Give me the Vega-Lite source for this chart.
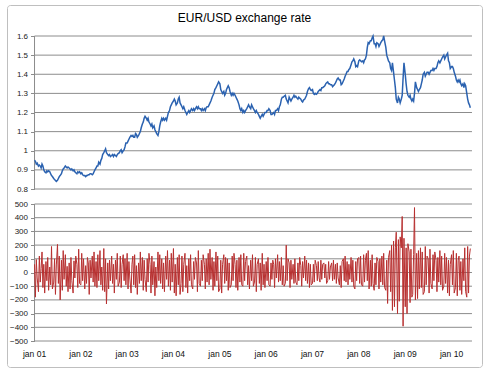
{
"$schema": "https://vega.github.io/schema/vega-lite/v6.json",
"width": 475, "height": 362,
"autosize": "none",
"padding": {"left": 7, "top": 5, "right": 5, "bottom": 8},
"background": "white",
"title": {"text": "EUR/USD exchange rate", "font": "Liberation Sans", "fontSize": 12, "fontWeight": "normal", "color": "#000000", "anchor": "middle", "frame": "group", "offset": 0, "baseline": "alphabetic", "dy": 29},
"config": {"view": {"stroke": "#bfbfbf", "strokeWidth": 1, "cornerRadius": 3}, "axis": {"labelFont": "Liberation Sans", "labelFontSize": 8, "labelColor": "#222222"}},
"datasets": {
"gt": [{"g":0.8},{"g":0.9},{"g":1.0},{"g":1.1},{"g":1.2},{"g":1.3},{"g":1.4},{"g":1.5},{"g":1.6}],
"gb": [{"g":-500},{"g":-400},{"g":-300},{"g":-200},{"g":-100},{"g":0},{"g":100},{"g":200},{"g":300},{"g":400},{"g":500}],
"yr": [{"t":"2001-01-01","lab":"jan 01"},{"t":"2002-01-01","lab":"jan 02"},{"t":"2003-01-01","lab":"jan 03"},{"t":"2004-01-01","lab":"jan 04"},{"t":"2005-01-01","lab":"jan 05"},{"t":"2006-01-01","lab":"jan 06"},{"t":"2007-01-01","lab":"jan 07"},{"t":"2008-01-01","lab":"jan 08"},{"t":"2009-01-01","lab":"jan 09"},{"t":"2010-01-01","lab":"jan 10"}],
"fx": [
{"d":"2001-01-01","p":0.95,"r":60},{"d":"2001-01-08","p":0.945,"r":-180},{"d":"2001-01-15","p":0.93,"r":95},{"d":"2001-01-22","p":0.935,"r":-40},
{"d":"2001-02-01","p":0.92,"r":-140},{"d":"2001-02-08","p":0.925,"r":120},{"d":"2001-02-15","p":0.92,"r":-70},{"d":"2001-02-22","p":0.91,"r":30},
{"d":"2001-03-01","p":0.93,"r":150},{"d":"2001-03-08","p":0.92,"r":-110},{"d":"2001-03-15","p":0.90,"r":60},{"d":"2001-03-22","p":0.89,"r":-150},
{"d":"2001-04-01","p":0.885,"r":80},{"d":"2001-04-08","p":0.895,"r":-60},{"d":"2001-04-15","p":0.89,"r":110},{"d":"2001-04-22","p":0.895,"r":-130},
{"d":"2001-05-01","p":0.89,"r":40},{"d":"2001-05-08","p":0.88,"r":-90},{"d":"2001-05-15","p":0.87,"r":190},{"d":"2001-05-22","p":0.865,"r":-120},
{"d":"2001-06-01","p":0.855,"r":-70},{"d":"2001-06-08","p":0.85,"r":100},{"d":"2001-06-15","p":0.845,"r":-160},{"d":"2001-06-22","p":0.84,"r":55},
{"d":"2001-07-01","p":0.845,"r":205},{"d":"2001-07-08","p":0.855,"r":-80},{"d":"2001-07-15","p":0.865,"r":120},{"d":"2001-07-22","p":0.87,"r":-200},
{"d":"2001-08-01","p":0.88,"r":90},{"d":"2001-08-08","p":0.895,"r":-130},{"d":"2001-08-15","p":0.905,"r":160},{"d":"2001-08-22","p":0.91,"r":-50},
{"d":"2001-09-01","p":0.92,"r":130},{"d":"2001-09-08","p":0.915,"r":-100},{"d":"2001-09-15","p":0.91,"r":45},{"d":"2001-09-22","p":0.915,"r":-140},
{"d":"2001-10-01","p":0.91,"r":70},{"d":"2001-10-08","p":0.905,"r":-120},{"d":"2001-10-15","p":0.90,"r":110},{"d":"2001-10-22","p":0.905,"r":-60},
{"d":"2001-11-01","p":0.895,"r":-150},{"d":"2001-11-08","p":0.90,"r":85},{"d":"2001-11-15","p":0.89,"r":-40},{"d":"2001-11-22","p":0.885,"r":120},
{"d":"2001-12-01","p":0.88,"r":60},{"d":"2001-12-08","p":0.89,"r":-110},{"d":"2001-12-15","p":0.885,"r":170},{"d":"2001-12-22","p":0.89,"r":-80},
{"d":"2002-01-01","p":0.88,"r":-90},{"d":"2002-01-08","p":0.885,"r":140},{"d":"2002-01-15","p":0.875,"r":-60},{"d":"2002-01-22","p":0.87,"r":100},
{"d":"2002-02-01","p":0.87,"r":-120},{"d":"2002-02-08","p":0.865,"r":50},{"d":"2002-02-15","p":0.87,"r":-80},{"d":"2002-02-22","p":0.87,"r":110},
{"d":"2002-03-01","p":0.875,"r":70},{"d":"2002-03-08","p":0.875,"r":-160},{"d":"2002-03-15","p":0.88,"r":90},{"d":"2002-03-22","p":0.88,"r":-40},
{"d":"2002-04-01","p":0.875,"r":120},{"d":"2002-04-08","p":0.88,"r":-70},{"d":"2002-04-15","p":0.89,"r":150},{"d":"2002-04-22","p":0.90,"r":-100},
{"d":"2002-05-01","p":0.91,"r":80},{"d":"2002-05-08","p":0.92,"r":-110},{"d":"2002-05-15","p":0.92,"r":130},{"d":"2002-05-22","p":0.94,"r":-60},
{"d":"2002-06-01","p":0.93,"r":160},{"d":"2002-06-08","p":0.95,"r":-90},{"d":"2002-06-15","p":0.96,"r":40},{"d":"2002-06-22","p":0.98,"r":-130},
{"d":"2002-07-01","p":0.99,"r":175},{"d":"2002-07-08","p":1.00,"r":-140},{"d":"2002-07-15","p":1.01,"r":100},{"d":"2002-07-22","p":0.99,"r":-230},
{"d":"2002-08-01","p":0.98,"r":70},{"d":"2002-08-08","p":0.975,"r":-120},{"d":"2002-08-15","p":0.98,"r":90},{"d":"2002-08-22","p":0.97,"r":-60},
{"d":"2002-09-01","p":0.975,"r":120},{"d":"2002-09-08","p":0.98,"r":-80},{"d":"2002-09-15","p":0.97,"r":60},{"d":"2002-09-22","p":0.98,"r":-150},
{"d":"2002-10-01","p":0.975,"r":90},{"d":"2002-10-08","p":0.97,"r":-50},{"d":"2002-10-15","p":0.98,"r":140},{"d":"2002-10-22","p":0.985,"r":-100},
{"d":"2002-11-01","p":0.99,"r":-70},{"d":"2002-11-08","p":1.00,"r":120},{"d":"2002-11-15","p":1.005,"r":-110},{"d":"2002-11-22","p":0.99,"r":60},
{"d":"2002-12-01","p":1.00,"r":130},{"d":"2002-12-08","p":1.005,"r":-60},{"d":"2002-12-15","p":1.02,"r":100},{"d":"2002-12-22","p":1.04,"r":-90},
{"d":"2003-01-01","p":1.04,"r":140},{"d":"2003-01-08","p":1.05,"r":-120},{"d":"2003-01-15","p":1.06,"r":80},{"d":"2003-01-22","p":1.07,"r":-40},
{"d":"2003-02-01","p":1.08,"r":-150},{"d":"2003-02-08","p":1.075,"r":60},{"d":"2003-02-15","p":1.08,"r":120},{"d":"2003-02-22","p":1.07,"r":-90},
{"d":"2003-03-01","p":1.07,"r":130},{"d":"2003-03-08","p":1.09,"r":-110},{"d":"2003-03-15","p":1.085,"r":50},{"d":"2003-03-22","p":1.07,"r":-160},
{"d":"2003-04-01","p":1.08,"r":70},{"d":"2003-04-08","p":1.09,"r":-80},{"d":"2003-04-15","p":1.10,"r":150},{"d":"2003-04-22","p":1.12,"r":-60},
{"d":"2003-05-01","p":1.14,"r":110},{"d":"2003-05-08","p":1.15,"r":-130},{"d":"2003-05-15","p":1.17,"r":90},{"d":"2003-05-22","p":1.18,"r":-50},
{"d":"2003-06-01","p":1.17,"r":-140},{"d":"2003-06-08","p":1.16,"r":100},{"d":"2003-06-15","p":1.17,"r":-70},{"d":"2003-06-22","p":1.15,"r":140},
{"d":"2003-07-01","p":1.14,"r":60},{"d":"2003-07-08","p":1.13,"r":-150},{"d":"2003-07-15","p":1.14,"r":120},{"d":"2003-07-22","p":1.12,"r":-90},
{"d":"2003-08-01","p":1.13,"r":80},{"d":"2003-08-08","p":1.11,"r":-170},{"d":"2003-08-15","p":1.10,"r":40},{"d":"2003-08-22","p":1.09,"r":-110},
{"d":"2003-09-01","p":1.08,"r":150},{"d":"2003-09-08","p":1.10,"r":-60},{"d":"2003-09-15","p":1.13,"r":130},{"d":"2003-09-22","p":1.15,"r":-80},
{"d":"2003-10-01","p":1.17,"r":100},{"d":"2003-10-08","p":1.16,"r":-120},{"d":"2003-10-15","p":1.17,"r":70},{"d":"2003-10-22","p":1.16,"r":-140},
{"d":"2003-11-01","p":1.17,"r":120},{"d":"2003-11-08","p":1.16,"r":-50},{"d":"2003-11-15","p":1.18,"r":160},{"d":"2003-11-22","p":1.20,"r":-100},
{"d":"2003-12-01","p":1.21,"r":90},{"d":"2003-12-08","p":1.23,"r":-130},{"d":"2003-12-15","p":1.24,"r":140},{"d":"2003-12-22","p":1.25,"r":-70},
{"d":"2004-01-01","p":1.26,"r":175},{"d":"2004-01-08","p":1.27,"r":-150},{"d":"2004-01-15","p":1.26,"r":60},{"d":"2004-01-22","p":1.24,"r":-170},
{"d":"2004-02-01","p":1.25,"r":110},{"d":"2004-02-08","p":1.27,"r":-90},{"d":"2004-02-15","p":1.28,"r":130},{"d":"2004-02-22","p":1.25,"r":-160},
{"d":"2004-03-01","p":1.24,"r":-80},{"d":"2004-03-08","p":1.23,"r":120},{"d":"2004-03-15","p":1.22,"r":-140},{"d":"2004-03-22","p":1.23,"r":60},
{"d":"2004-04-01","p":1.21,"r":140},{"d":"2004-04-08","p":1.20,"r":-110},{"d":"2004-04-15","p":1.19,"r":50},{"d":"2004-04-22","p":1.20,"r":-150},
{"d":"2004-05-01","p":1.21,"r":100},{"d":"2004-05-08","p":1.20,"r":-60},{"d":"2004-05-15","p":1.21,"r":130},{"d":"2004-05-22","p":1.22,"r":-90},
{"d":"2004-06-01","p":1.21,"r":-120},{"d":"2004-06-08","p":1.22,"r":80},{"d":"2004-06-15","p":1.21,"r":-50},{"d":"2004-06-22","p":1.22,"r":110},
{"d":"2004-07-01","p":1.23,"r":70},{"d":"2004-07-08","p":1.22,"r":-140},{"d":"2004-07-15","p":1.23,"r":160},{"d":"2004-07-22","p":1.22,"r":-80},
{"d":"2004-08-01","p":1.22,"r":-100},{"d":"2004-08-08","p":1.21,"r":90},{"d":"2004-08-15","p":1.22,"r":-60},{"d":"2004-08-22","p":1.21,"r":130},
{"d":"2004-09-01","p":1.22,"r":60},{"d":"2004-09-08","p":1.21,"r":-120},{"d":"2004-09-15","p":1.225,"r":100},{"d":"2004-09-22","p":1.23,"r":-70},
{"d":"2004-10-01","p":1.23,"r":140},{"d":"2004-10-08","p":1.24,"r":-90},{"d":"2004-10-15","p":1.25,"r":170},{"d":"2004-10-22","p":1.26,"r":-50},
{"d":"2004-11-01","p":1.28,"r":110},{"d":"2004-11-08","p":1.29,"r":-130},{"d":"2004-11-15","p":1.30,"r":80},{"d":"2004-11-22","p":1.32,"r":-100},
{"d":"2004-12-01","p":1.33,"r":150},{"d":"2004-12-08","p":1.34,"r":-60},{"d":"2004-12-15","p":1.35,"r":120},{"d":"2004-12-22","p":1.36,"r":-140},
{"d":"2005-01-01","p":1.35,"r":-120},{"d":"2005-01-08","p":1.32,"r":90},{"d":"2005-01-15","p":1.31,"r":-150},{"d":"2005-01-22","p":1.30,"r":60},
{"d":"2005-02-01","p":1.31,"r":130},{"d":"2005-02-08","p":1.29,"r":-80},{"d":"2005-02-15","p":1.30,"r":110},{"d":"2005-02-22","p":1.32,"r":-60},
{"d":"2005-03-01","p":1.33,"r":100},{"d":"2005-03-08","p":1.34,"r":-130},{"d":"2005-03-15","p":1.33,"r":70},{"d":"2005-03-22","p":1.31,"r":-110},
{"d":"2005-04-01","p":1.29,"r":-90},{"d":"2005-04-08","p":1.30,"r":120},{"d":"2005-04-15","p":1.29,"r":-60},{"d":"2005-04-22","p":1.30,"r":140},
{"d":"2005-05-01","p":1.29,"r":60},{"d":"2005-05-08","p":1.28,"r":-110},{"d":"2005-05-15","p":1.27,"r":90},{"d":"2005-05-22","p":1.26,"r":-130},
{"d":"2005-06-01","p":1.24,"r":110},{"d":"2005-06-08","p":1.22,"r":-70},{"d":"2005-06-15","p":1.21,"r":130},{"d":"2005-06-22","p":1.22,"r":-90},
{"d":"2005-07-01","p":1.20,"r":-100},{"d":"2005-07-08","p":1.21,"r":140},{"d":"2005-07-15","p":1.20,"r":-60},{"d":"2005-07-22","p":1.21,"r":80},
{"d":"2005-08-01","p":1.22,"r":120},{"d":"2005-08-08","p":1.23,"r":-90},{"d":"2005-08-15","p":1.24,"r":50},{"d":"2005-08-22","p":1.23,"r":-120},
{"d":"2005-09-01","p":1.22,"r":90},{"d":"2005-09-08","p":1.24,"r":-60},{"d":"2005-09-15","p":1.23,"r":130},{"d":"2005-09-22","p":1.22,"r":-100},
{"d":"2005-10-01","p":1.21,"r":-70},{"d":"2005-10-08","p":1.20,"r":110},{"d":"2005-10-15","p":1.21,"r":-140},{"d":"2005-10-22","p":1.20,"r":60},
{"d":"2005-11-01","p":1.19,"r":100},{"d":"2005-11-08","p":1.18,"r":-80},{"d":"2005-11-15","p":1.17,"r":70},{"d":"2005-11-22","p":1.18,"r":-130},
{"d":"2005-12-01","p":1.19,"r":140},{"d":"2005-12-08","p":1.18,"r":-90},{"d":"2005-12-15","p":1.19,"r":60},{"d":"2005-12-22","p":1.20,"r":-110},
{"d":"2006-01-01","p":1.20,"r":80},{"d":"2006-01-08","p":1.21,"r":-60},{"d":"2006-01-15","p":1.21,"r":110},{"d":"2006-01-22","p":1.22,"r":-90},
{"d":"2006-02-01","p":1.21,"r":-100},{"d":"2006-02-08","p":1.19,"r":70},{"d":"2006-02-15","p":1.19,"r":-50},{"d":"2006-02-22","p":1.195,"r":90},
{"d":"2006-03-01","p":1.20,"r":60},{"d":"2006-03-08","p":1.19,"r":-110},{"d":"2006-03-15","p":1.21,"r":100},{"d":"2006-03-22","p":1.21,"r":-40},
{"d":"2006-04-01","p":1.22,"r":130},{"d":"2006-04-08","p":1.21,"r":-70},{"d":"2006-04-15","p":1.23,"r":80},{"d":"2006-04-22","p":1.24,"r":-60},
{"d":"2006-05-01","p":1.27,"r":110},{"d":"2006-05-08","p":1.28,"r":-90},{"d":"2006-05-15","p":1.28,"r":50},{"d":"2006-05-22","p":1.285,"r":-100},
{"d":"2006-06-01","p":1.29,"r":-80},{"d":"2006-06-08","p":1.27,"r":200},{"d":"2006-06-15","p":1.26,"r":-60},{"d":"2006-06-22","p":1.25,"r":100},
{"d":"2006-07-01","p":1.28,"r":70},{"d":"2006-07-08","p":1.27,"r":-110},{"d":"2006-07-15","p":1.26,"r":90},{"d":"2006-07-22","p":1.27,"r":-50},
{"d":"2006-08-01","p":1.28,"r":60},{"d":"2006-08-08","p":1.29,"r":-80},{"d":"2006-08-15","p":1.28,"r":100},{"d":"2006-08-22","p":1.285,"r":-70},
{"d":"2006-09-01","p":1.275,"r":-90},{"d":"2006-09-08","p":1.27,"r":70},{"d":"2006-09-15","p":1.28,"r":-60},{"d":"2006-09-22","p":1.275,"r":110},
{"d":"2006-10-01","p":1.27,"r":50},{"d":"2006-10-08","p":1.26,"r":-100},{"d":"2006-10-15","p":1.255,"r":80},{"d":"2006-10-22","p":1.265,"r":-40},
{"d":"2006-11-01","p":1.27,"r":120},{"d":"2006-11-08","p":1.28,"r":-60},{"d":"2006-11-15","p":1.29,"r":90},{"d":"2006-11-22","p":1.31,"r":-80},
{"d":"2006-12-01","p":1.325,"r":70},{"d":"2006-12-08","p":1.33,"r":-110},{"d":"2006-12-15","p":1.32,"r":60},{"d":"2006-12-22","p":1.315,"r":-90},
{"d":"2007-01-01","p":1.32,"r":-80},{"d":"2007-01-08","p":1.30,"r":60},{"d":"2007-01-15","p":1.295,"r":-70},{"d":"2007-01-22","p":1.30,"r":90},
{"d":"2007-02-01","p":1.295,"r":50},{"d":"2007-02-08","p":1.30,"r":-60},{"d":"2007-02-15","p":1.31,"r":80},{"d":"2007-02-22","p":1.315,"r":-40},
{"d":"2007-03-01","p":1.32,"r":-70},{"d":"2007-03-08","p":1.315,"r":90},{"d":"2007-03-15","p":1.33,"r":-50},{"d":"2007-03-22","p":1.33,"r":60},
{"d":"2007-04-01","p":1.335,"r":70},{"d":"2007-04-08","p":1.34,"r":-40},{"d":"2007-04-15","p":1.35,"r":60},{"d":"2007-04-22","p":1.355,"r":-80},
{"d":"2007-05-01","p":1.36,"r":-60},{"d":"2007-05-08","p":1.35,"r":80},{"d":"2007-05-15","p":1.35,"r":-50},{"d":"2007-05-22","p":1.345,"r":40},
{"d":"2007-06-01","p":1.345,"r":70},{"d":"2007-06-08","p":1.335,"r":-60},{"d":"2007-06-15","p":1.34,"r":90},{"d":"2007-06-22","p":1.345,"r":-50},
{"d":"2007-07-01","p":1.355,"r":60},{"d":"2007-07-08","p":1.365,"r":-80},{"d":"2007-07-15","p":1.375,"r":70},{"d":"2007-07-22","p":1.38,"r":-40},
{"d":"2007-08-01","p":1.37,"r":-90},{"d":"2007-08-08","p":1.37,"r":50},{"d":"2007-08-15","p":1.345,"r":-110},{"d":"2007-08-22","p":1.35,"r":80},
{"d":"2007-09-01","p":1.365,"r":100},{"d":"2007-09-08","p":1.375,"r":-60},{"d":"2007-09-15","p":1.39,"r":120},{"d":"2007-09-22","p":1.40,"r":-70},
{"d":"2007-10-01","p":1.415,"r":80},{"d":"2007-10-08","p":1.415,"r":-90},{"d":"2007-10-15","p":1.425,"r":60},{"d":"2007-10-22","p":1.43,"r":-50},
{"d":"2007-11-01","p":1.45,"r":110},{"d":"2007-11-08","p":1.465,"r":-70},{"d":"2007-11-15","p":1.47,"r":90},{"d":"2007-11-22","p":1.48,"r":-100},
{"d":"2007-12-01","p":1.465,"r":-120},{"d":"2007-12-08","p":1.44,"r":80},{"d":"2007-12-15","p":1.445,"r":-60},{"d":"2007-12-22","p":1.44,"r":100},
{"d":"2008-01-01","p":1.47,"r":110},{"d":"2008-01-08","p":1.475,"r":-80},{"d":"2008-01-15","p":1.47,"r":120},{"d":"2008-01-22","p":1.465,"r":-90},
{"d":"2008-02-01","p":1.47,"r":-100},{"d":"2008-02-08","p":1.46,"r":130},{"d":"2008-02-15","p":1.475,"r":-70},{"d":"2008-02-22","p":1.48,"r":90},
{"d":"2008-03-01","p":1.50,"r":140},{"d":"2008-03-08","p":1.54,"r":-60},{"d":"2008-03-15","p":1.565,"r":160},{"d":"2008-03-22","p":1.56,"r":-120},
{"d":"2008-04-01","p":1.575,"r":90},{"d":"2008-04-08","p":1.575,"r":-100},{"d":"2008-04-15","p":1.59,"r":130},{"d":"2008-04-22","p":1.60,"r":-80},
{"d":"2008-05-01","p":1.56,"r":-130},{"d":"2008-05-08","p":1.56,"r":70},{"d":"2008-05-15","p":1.545,"r":-90},{"d":"2008-05-22","p":1.565,"r":110},
{"d":"2008-06-01","p":1.56,"r":80},{"d":"2008-06-08","p":1.545,"r":-120},{"d":"2008-06-15","p":1.555,"r":100},{"d":"2008-06-22","p":1.565,"r":-70},
{"d":"2008-07-01","p":1.575,"r":120},{"d":"2008-07-08","p":1.58,"r":-90},{"d":"2008-07-15","p":1.60,"r":140},{"d":"2008-07-22","p":1.575,"r":-110},
{"d":"2008-08-01","p":1.54,"r":-130},{"d":"2008-08-08","p":1.50,"r":90},{"d":"2008-08-15","p":1.485,"r":-226},{"d":"2008-08-22","p":1.47,"r":110},
{"d":"2008-09-01","p":1.46,"r":160},{"d":"2008-09-08","p":1.43,"r":-140},{"d":"2008-09-15","p":1.42,"r":200},{"d":"2008-09-22","p":1.46,"r":-277},
{"d":"2008-10-01","p":1.41,"r":230},{"d":"2008-10-08","p":1.37,"r":-250},{"d":"2008-10-15","p":1.33,"r":180},{"d":"2008-10-22","p":1.27,"r":294},
{"d":"2008-11-01","p":1.25,"r":-300},{"d":"2008-11-08","p":1.28,"r":240},{"d":"2008-11-15","p":1.27,"r":-210},{"d":"2008-11-22","p":1.25,"r":260},
{"d":"2008-12-01","p":1.27,"r":180},{"d":"2008-12-08","p":1.29,"r":409},{"d":"2008-12-15","p":1.38,"r":-392},{"d":"2008-12-22","p":1.46,"r":250},
{"d":"2009-01-01","p":1.40,"r":-250},{"d":"2009-01-08","p":1.35,"r":180},{"d":"2009-01-15","p":1.31,"r":-300},{"d":"2009-01-22","p":1.29,"r":210},
{"d":"2009-02-01","p":1.28,"r":150},{"d":"2009-02-08","p":1.29,"r":-220},{"d":"2009-02-15","p":1.27,"r":170},{"d":"2009-02-22","p":1.26,"r":-180},
{"d":"2009-03-01","p":1.27,"r":-160},{"d":"2009-03-08","p":1.26,"r":130},{"d":"2009-03-15","p":1.30,"r":474},{"d":"2009-03-22","p":1.36,"r":-200},
{"d":"2009-04-01","p":1.33,"r":140},{"d":"2009-04-08","p":1.32,"r":-190},{"d":"2009-04-15","p":1.31,"r":160},{"d":"2009-04-22","p":1.32,"r":-120},
{"d":"2009-05-01","p":1.33,"r":180},{"d":"2009-05-08","p":1.35,"r":-110},{"d":"2009-05-15","p":1.37,"r":150},{"d":"2009-05-22","p":1.40,"r":-160},
{"d":"2009-06-01","p":1.41,"r":-140},{"d":"2009-06-08","p":1.39,"r":190},{"d":"2009-06-15","p":1.40,"r":-90},{"d":"2009-06-22","p":1.41,"r":120},
{"d":"2009-07-01","p":1.41,"r":100},{"d":"2009-07-08","p":1.40,"r":-150},{"d":"2009-07-15","p":1.41,"r":170},{"d":"2009-07-22","p":1.42,"r":-80},
{"d":"2009-08-01","p":1.42,"r":-120},{"d":"2009-08-08","p":1.43,"r":130},{"d":"2009-08-15","p":1.42,"r":-60},{"d":"2009-08-22","p":1.43,"r":150},
{"d":"2009-09-01","p":1.43,"r":90},{"d":"2009-09-08","p":1.44,"r":-140},{"d":"2009-09-15","p":1.46,"r":110},{"d":"2009-09-22","p":1.47,"r":-70},
{"d":"2009-10-01","p":1.46,"r":160},{"d":"2009-10-08","p":1.47,"r":-90},{"d":"2009-10-15","p":1.48,"r":120},{"d":"2009-10-22","p":1.49,"r":-130},
{"d":"2009-11-01","p":1.50,"r":-100},{"d":"2009-11-08","p":1.48,"r":140},{"d":"2009-11-15","p":1.49,"r":-80},{"d":"2009-11-22","p":1.50,"r":110},
{"d":"2009-12-01","p":1.51,"r":-150},{"d":"2009-12-08","p":1.47,"r":90},{"d":"2009-12-15","p":1.46,"r":-170},{"d":"2009-12-22","p":1.43,"r":60},
{"d":"2010-01-01","p":1.44,"r":130},{"d":"2010-01-08","p":1.44,"r":-90},{"d":"2010-01-15","p":1.43,"r":160},{"d":"2010-01-22","p":1.41,"r":-150},
{"d":"2010-02-01","p":1.39,"r":-110},{"d":"2010-02-08","p":1.37,"r":140},{"d":"2010-02-15","p":1.36,"r":-170},{"d":"2010-02-22","p":1.37,"r":90},
{"d":"2010-03-01","p":1.36,"r":120},{"d":"2010-03-08","p":1.37,"r":-130},{"d":"2010-03-15","p":1.35,"r":80},{"d":"2010-03-22","p":1.34,"r":-160},
{"d":"2010-04-01","p":1.35,"r":100},{"d":"2010-04-08","p":1.33,"r":-60},{"d":"2010-04-15","p":1.35,"r":180},{"d":"2010-04-22","p":1.34,"r":-140},
{"d":"2010-05-01","p":1.30,"r":-180},{"d":"2010-05-08","p":1.27,"r":190},{"d":"2010-05-15","p":1.25,"r":-150},{"d":"2010-05-22","p":1.24,"r":120},
{"d":"2010-05-29","p":1.225,"r":175}
]
},
"layer": [
{"data": {"name": "gt"}, "mark": {"type": "rule", "color": "#8c8c8c", "strokeWidth": 1},
 "encoding": {
  "x": {"datum": {"year": 2001, "month": 1, "date": 1}, "type": "temporal", "scale": {"domain": [{"year": 2000, "month": 5, "date": 29}, {"year": 2010, "month": 8, "date": 29}], "nice": false}, "axis": null},
  "x2": {"datum": {"year": 2010, "month": 6, "date": 11}},
  "y": {"field": "g", "type": "quantitative", "scale": {"domain": [-0.1307, 1.7621], "nice": false, "zero": false},
        "axis": {"orient": "left", "offset": -27.5, "values": [0.8, 0.9, 1, 1.1, 1.2, 1.3, 1.4, 1.5, 1.6], "tickCount": 30, "format": ".1~f", "labelOverlap": false, "domain": false, "grid": false, "ticks": true, "tickSize": 4, "tickColor": "#8c8c8c", "labelPadding": 3, "title": null}}
 }},
{"data": {"values": [{}]}, "mark": {"type": "rule", "color": "#8c8c8c", "strokeWidth": 1},
 "encoding": {
  "x": {"datum": {"year": 2001, "month": 1, "date": 1}, "type": "temporal", "axis": null},
  "y": {"datum": 0.8, "type": "quantitative", "scale": {"domain": [-0.1307, 1.7621], "nice": false, "zero": false}, "axis": null},
  "y2": {"datum": 1.6}
 }},
{"data": {"name": "fx"}, "mark": {"type": "line", "color": "#2b62b0", "strokeWidth": 1.5},
 "encoding": {
  "x": {"field": "d", "type": "temporal", "axis": null},
  "y": {"field": "p", "type": "quantitative", "scale": {"domain": [-0.1307, 1.7621], "nice": false, "zero": false}, "axis": null}
 }},
{"data": {"name": "gb"}, "mark": {"type": "rule", "color": "#8c8c8c", "strokeWidth": 1},
 "encoding": {
  "x": {"datum": {"year": 2001, "month": 1, "date": 1}, "type": "temporal", "axis": null},
  "x2": {"datum": {"year": 2010, "month": 6, "date": 11}},
  "y": {"field": "g", "type": "quantitative", "scale": {"domain": [-689.75, 1952.55], "nice": false, "zero": false},
        "axis": {"orient": "left", "offset": -27.5, "values": [-500, -400, -300, -200, -100, 0, 100, 200, 300, 400, 500], "tickCount": 30, "format": "d", "labelOverlap": false, "domain": false, "grid": false, "ticks": true, "tickSize": 4, "tickColor": "#8c8c8c", "labelPadding": 3, "title": null}}
 }},
{"data": {"values": [{}]}, "mark": {"type": "rule", "color": "#8c8c8c", "strokeWidth": 1},
 "encoding": {
  "x": {"datum": {"year": 2001, "month": 1, "date": 1}, "type": "temporal", "axis": null},
  "y": {"datum": -500, "type": "quantitative", "scale": {"domain": [-689.75, 1952.55], "nice": false, "zero": false}, "axis": null},
  "y2": {"datum": 500}
 }},
{"data": {"name": "fx"}, "mark": {"type": "line", "color": "#b83030", "strokeWidth": 1},
 "encoding": {
  "x": {"field": "d", "type": "temporal", "axis": null},
  "y": {"field": "r", "type": "quantitative", "scale": {"domain": [-689.75, 1952.55], "nice": false, "zero": false}, "axis": null}
 }},
{"data": {"name": "yr"}, "mark": {"type": "text", "font": "Liberation Sans", "fontSize": 8.5, "color": "#111111", "align": "center", "baseline": "middle"},
 "encoding": {
  "x": {"field": "t", "type": "temporal", "axis": null},
  "y": {"datum": -595, "type": "quantitative", "scale": {"domain": [-689.75, 1952.55], "nice": false, "zero": false}, "axis": null},
  "text": {"field": "lab"}
 }}
],
"resolve": {"scale": {"y": "independent"}, "axis": {"y": "independent"}}
}
